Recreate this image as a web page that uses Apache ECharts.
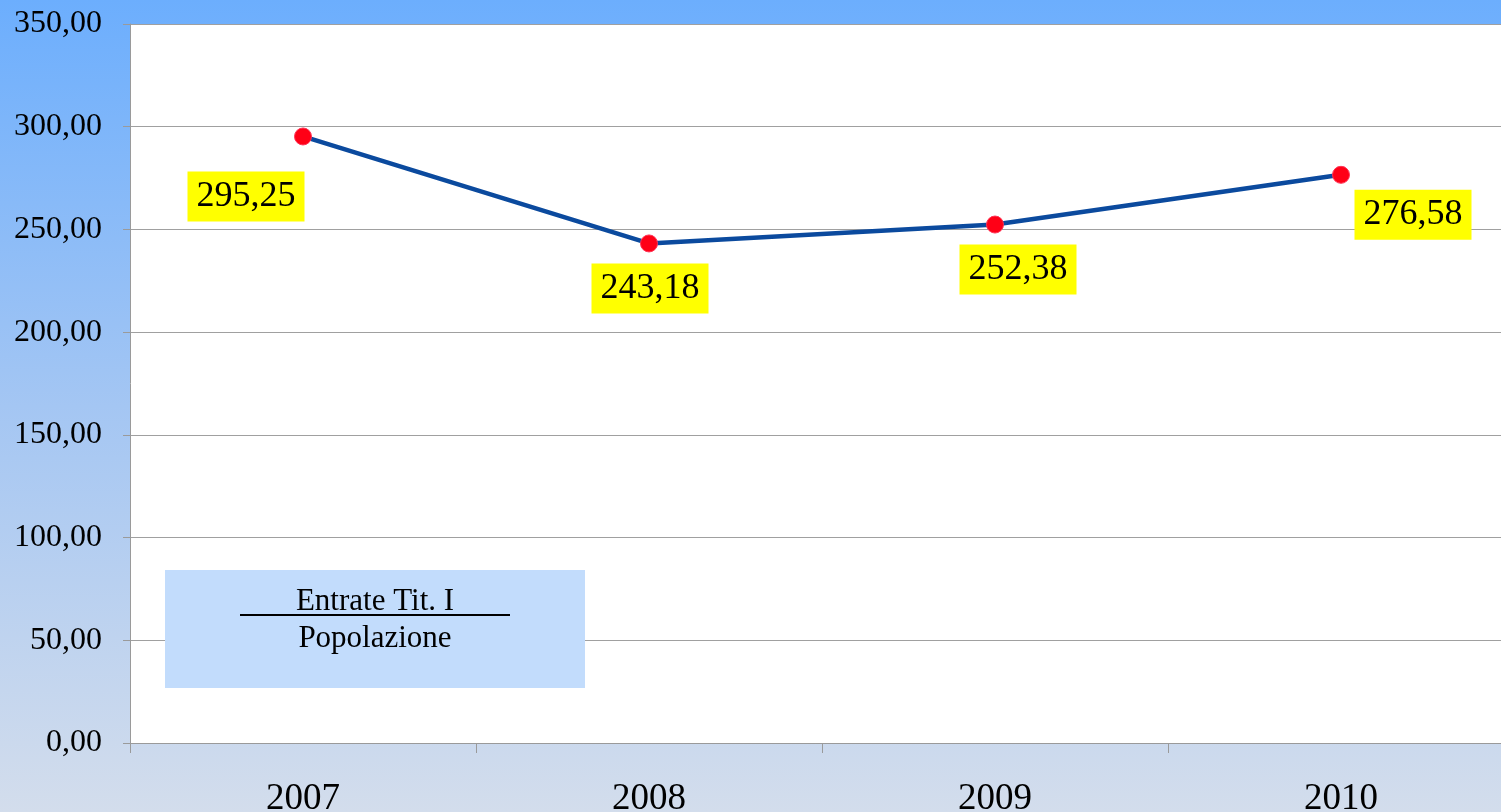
<!DOCTYPE html>
<html>
<head>
<meta charset="utf-8">
<script src="https://cdn.jsdelivr.net/npm/echarts@6/dist/echarts.min.js"></script>
<style>
  html, body { margin: 0; padding: 0; }
  #main { width: 1501px; height: 812px; }
</style>
</head>
<body>
<div id="main"></div>
<script>
// dati
let anni = ["2007", "2008", "2009", "2010"];
let valori = [295.25, 243.18, 252.38, 276.58];
// spostamento delle etichette gialle rispetto al punto
let offsetEtichette = [[-57, 60], [1, 45], [23, 45], [72, 40]];

let fmt = (v) => v.toFixed(2).replace(".", ",");

let myChart = echarts.init(document.getElementById("main"));

let option = {
  backgroundColor: {
    type: "linear", x: 0, y: 0, x2: 0, y2: 1,
    colorStops: [
      { offset: 0, color: "#6caefd" },
      { offset: 0.5, color: "#a4c6f3" },
      { offset: 1, color: "#d3ddec" },
    ],
  },
  textStyle: { fontFamily: "Liberation Serif" },
  grid: {
    left: 130, top: 24, width: 1384, height: 719,
    backgroundColor: "#ffffff", show: true, borderWidth: 0,
    outerBoundsMode: "none",
    containLabel: false,
  },
  xAxis: {
    type: "category",
    data: anni,
    boundaryGap: true,
    axisLine: { lineStyle: { color: "#9a9a9a", width: 1 } },
    axisTick: { show: true, length: 10, lineStyle: { color: "#9a9a9a" } },
    axisLabel: { color: "#000", fontSize: 37, margin: 38, fontFamily: "Liberation Serif" },
  },
  yAxis: {
    type: "value",
    min: 0,
    max: 350,
    interval: 50,
    axisLine: { show: true, lineStyle: { color: "#9a9a9a", width: 1 } },
    axisTick: { show: true, length: 7, lineStyle: { color: "#9a9a9a" } },
    axisLabel: {
      color: "#000", fontSize: 32, margin: 28, fontFamily: "Liberation Serif",
      padding: [5, 0, 0, 0],
      formatter: fmt,
    },
    splitLine: { lineStyle: { color: "#a0a0a0", width: 1 } },
  },
  series: [
    {
      type: "line",
      data: valori.map((v, i) => ({
        value: v,
        label: { offset: offsetEtichette[i] },
      })),
      symbol: "circle",
      symbolSize: 17,
      lineStyle: { color: "#0b4a9e", width: 4.5 },
      itemStyle: { color: "#ff0016", borderColor: "#ff3355", borderWidth: 1 },
      label: {
        show: true,
        position: "inside",
        color: "#000",
        fontSize: 36,
        fontFamily: "Liberation Serif",
        backgroundColor: "#ffff00",
        padding: [8, 9, 6, 9],
        formatter: (p) => fmt(p.value),
      },
      z: 3,
    },
  ],
  graphic: [
    {
      type: "group",
      left: 165,
      top: 570,
      z: 100,
      children: [
        { type: "rect", z: 100, shape: { x: 0, y: 0, width: 420, height: 118 }, style: { fill: "#c2dcfc" } },
        {
          type: "text",
          z: 101,
          x: 210, y: 32,
          style: { text: "Entrate Tit. I", fill: "#000", font: "31px 'Liberation Serif'", align: "center", verticalAlign: "middle" },
        },
        { type: "line", z: 101, shape: { x1: 75, y1: 45, x2: 345, y2: 45 }, style: { stroke: "#000", lineWidth: 2 } },
        {
          type: "text",
          z: 101,
          x: 210, y: 69,
          style: { text: "Popolazione", fill: "#000", font: "31px 'Liberation Serif'", align: "center", verticalAlign: "middle" },
        },
      ],
    },
  ],
};

myChart.setOption(option);
window.addEventListener("resize", function () {
  myChart.resize();
});
</script>
</body>
</html>
